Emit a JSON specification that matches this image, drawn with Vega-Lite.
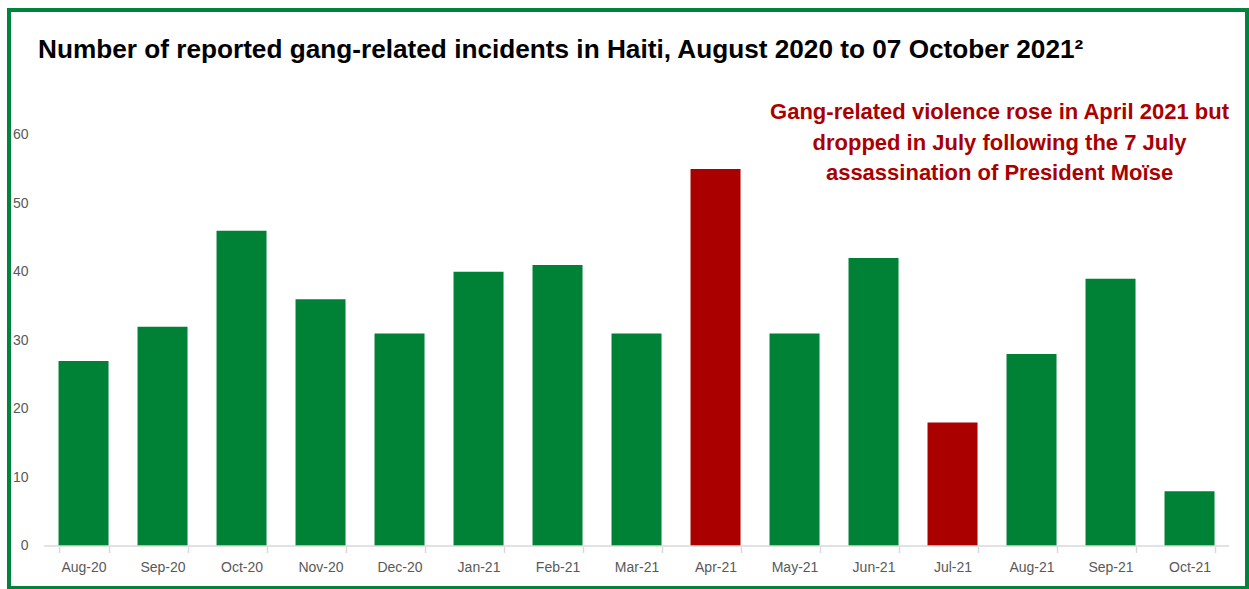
{
  "$schema": "https://vega.github.io/schema/vega-lite/v6.json",
  "width": 1238,
  "height": 578,
  "autosize": {"type": "none"},
  "padding": {"left": 9, "top": 10, "right": 2, "bottom": 1},
  "background": "white",
  "config": {
    "view": {"stroke": "#00843D", "strokeWidth": 4},
    "font": "Liberation Sans"
  },
  "title": {
    "text": "Number of reported gang-related incidents in Haiti, August 2020 to 07 October 2021²",
    "anchor": "start",
    "frame": "group",
    "orient": "top",
    "font": "Liberation Sans",
    "fontSize": 26.2,
    "fontWeight": "bold",
    "color": "#000000",
    "baseline": "alphabetic",
    "offset": -74,
    "dx": 29
  },
  "data": {
    "values": [
      {"month": "Aug-20", "incidents": 27},
      {"month": "Sep-20", "incidents": 32},
      {"month": "Oct-20", "incidents": 46},
      {"month": "Nov-20", "incidents": 36},
      {"month": "Dec-20", "incidents": 31},
      {"month": "Jan-21", "incidents": 40},
      {"month": "Feb-21", "incidents": 41},
      {"month": "Mar-21", "incidents": 31},
      {"month": "Apr-21", "incidents": 55},
      {"month": "May-21", "incidents": 31},
      {"month": "Jun-21", "incidents": 42},
      {"month": "Jul-21", "incidents": 18},
      {"month": "Aug-21", "incidents": 28},
      {"month": "Sep-21", "incidents": 39},
      {"month": "Oct-21", "incidents": 8}
    ]
  },
  "encoding": {
    "x": {
      "field": "month",
      "type": "nominal",
      "sort": null,
      "scale": {"paddingInner": 0.367, "paddingOuter": 0.519, "align": 0.604},
      "axis": {
        "orient": "bottom",
        "offset": -41.5,
        "domain": false,
        "tickBand": "extent",
        "tickSize": 6,
        "tickColor": "#d9d9d9",
        "tickWidth": 1.5,
        "labelPadding": 8,
        "labelFontSize": 14,
        "labelColor": "#595959",
        "labelAngle": 0,
        "grid": false,
        "title": null
      }
    }
  },
  "layer": [
    {
      "mark": {"type": "bar"},
      "encoding": {
        "y": {
          "field": "incidents",
          "type": "quantitative",
          "scale": {"domain": [-6.127, 78.19], "nice": false, "zero": false},
          "axis": {
            "orient": "left",
            "values": [0, 10, 20, 30, 40, 50, 60],
            "offset": -19,
            "domain": false,
            "ticks": false,
            "tickSize": 0,
            "labelPadding": 0,
            "grid": false,
            "title": null,
            "labelFontSize": 14,
            "labelColor": "#595959"
          }
        },
        "y2": {"datum": 0},
        "color": {
          "condition": {"test": "datum.month === 'Apr-21' || datum.month === 'Jul-21'", "value": "#AA0000"},
          "value": "#008236"
        }
      }
    },
    {
      "mark": {"type": "rule", "color": "#d9d9d9", "strokeWidth": 1.5},
      "encoding": {
        "x": {"field": "month", "type": "nominal", "sort": null, "bandPosition": -0.29},
        "x2": {"field": "month", "bandPosition": 1.29},
        "y": {"datum": 0, "type": "quantitative"}
      }
    },
    {
      "data": {"values": [{}]},
      "mark": {
        "type": "text",
        "text": ["Gang-related violence rose in April 2021 but", "dropped in July following the 7 July", "assassination of President Moïse"],
        "font": "Liberation Sans",
        "fontSize": 22,
        "fontWeight": "bold",
        "color": "#AA0000",
        "align": "center",
        "baseline": "alphabetic",
        "lineHeight": 30.5,
        "dx": -32
      },
      "encoding": {
        "x": {"datum": "Aug-21", "type": "nominal"},
        "y": {"datum": 62.25, "type": "quantitative"}
      }
    }
  ]
}
